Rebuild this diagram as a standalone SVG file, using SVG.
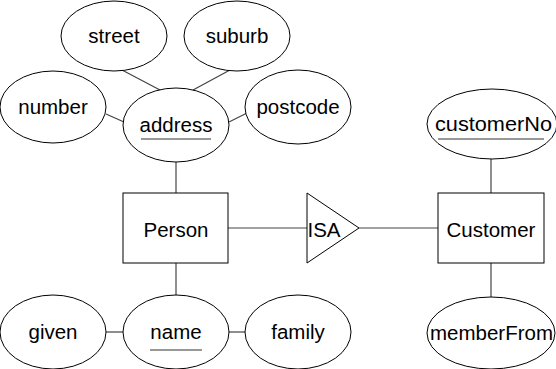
<svg xmlns="http://www.w3.org/2000/svg" width="556" height="369" viewBox="0 0 556 369">
  <style>
    .shape { fill: #ffffff; stroke: #000000; stroke-width: 1; }
    .link { stroke: #444444; stroke-width: 1.2; fill: none; }
    .key { stroke: #333333; stroke-width: 1.2; }
    text { font-family: "Liberation Sans", Arial, sans-serif; font-size: 20.5px; fill: #000000; text-anchor: middle; }
  </style>
  <rect x="0" y="0" width="556" height="369" fill="#ffffff"/>
  <g id="connectors">
    <line class="link" x1="122" y1="70" x2="160" y2="90"/>
    <line class="link" x1="230" y1="70" x2="193" y2="90"/>
    <line class="link" x1="106" y1="114" x2="124" y2="122"/>
    <line class="link" x1="247" y1="113" x2="229" y2="122"/>
    <line class="link" x1="176" y1="162" x2="176" y2="193"/>
    <line class="link" x1="176" y1="263" x2="176" y2="295"/>
    <line class="link" x1="106" y1="332" x2="123" y2="332"/>
    <line class="link" x1="229" y1="332" x2="246" y2="332"/>
    <line class="link" x1="228" y1="228" x2="307" y2="228"/>
    <line class="link" x1="359" y1="228" x2="438" y2="228"/>
    <line class="link" x1="491" y1="158" x2="491" y2="193"/>
    <line class="link" x1="491" y1="263" x2="491" y2="297"/>
  </g>
  <g id="street">
    <ellipse class="shape" cx="114" cy="36" rx="53" ry="35"/>
    <text x="114" y="43">street</text>
  </g>
  <g id="suburb">
    <ellipse class="shape" cx="237" cy="36" rx="53" ry="35"/>
    <text x="237" y="43">suburb</text>
  </g>
  <g id="number">
    <ellipse class="shape" cx="53" cy="107" rx="53" ry="36"/>
    <text x="53" y="114">number</text>
  </g>
  <g id="postcode">
    <ellipse class="shape" cx="298" cy="107" rx="53" ry="37"/>
    <text x="298" y="114">postcode</text>
  </g>
  <g id="address">
    <ellipse class="shape" cx="176" cy="125" rx="53" ry="37"/>
    <text x="176" y="132">address</text>
    <line class="key" x1="141" y1="139" x2="211" y2="139"/>
  </g>
  <g id="person">
    <rect class="shape" x="123" y="193" width="105" height="70"/>
    <text x="176" y="237">Person</text>
  </g>
  <g id="isa">
    <polygon class="shape" points="307,193 359,228 307,263"/>
    <text x="324" y="237">ISA</text>
  </g>
  <g id="customer">
    <rect class="shape" x="438" y="193" width="106" height="70"/>
    <text x="491" y="237">Customer</text>
  </g>
  <g id="customerNo">
    <ellipse class="shape" cx="492" cy="124" rx="65" ry="35"/>
    <text x="493.5" y="131" textLength="117" lengthAdjust="spacingAndGlyphs">customerNo</text>
    <line class="key" x1="438" y1="139" x2="544" y2="139"/>
  </g>
  <g id="memberFrom">
    <ellipse class="shape" cx="491" cy="333" rx="64" ry="36"/>
    <text x="491.5" y="340">memberFrom</text>
  </g>
  <g id="given">
    <ellipse class="shape" cx="53" cy="332" rx="53" ry="37"/>
    <text x="53" y="339">given</text>
  </g>
  <g id="name">
    <ellipse class="shape" cx="176" cy="332" rx="53" ry="37"/>
    <text x="176" y="339">name</text>
    <line class="key" x1="150" y1="350" x2="202" y2="350"/>
  </g>
  <g id="family">
    <ellipse class="shape" cx="298" cy="332" rx="53" ry="37"/>
    <text x="298" y="339">family</text>
  </g>
</svg>
